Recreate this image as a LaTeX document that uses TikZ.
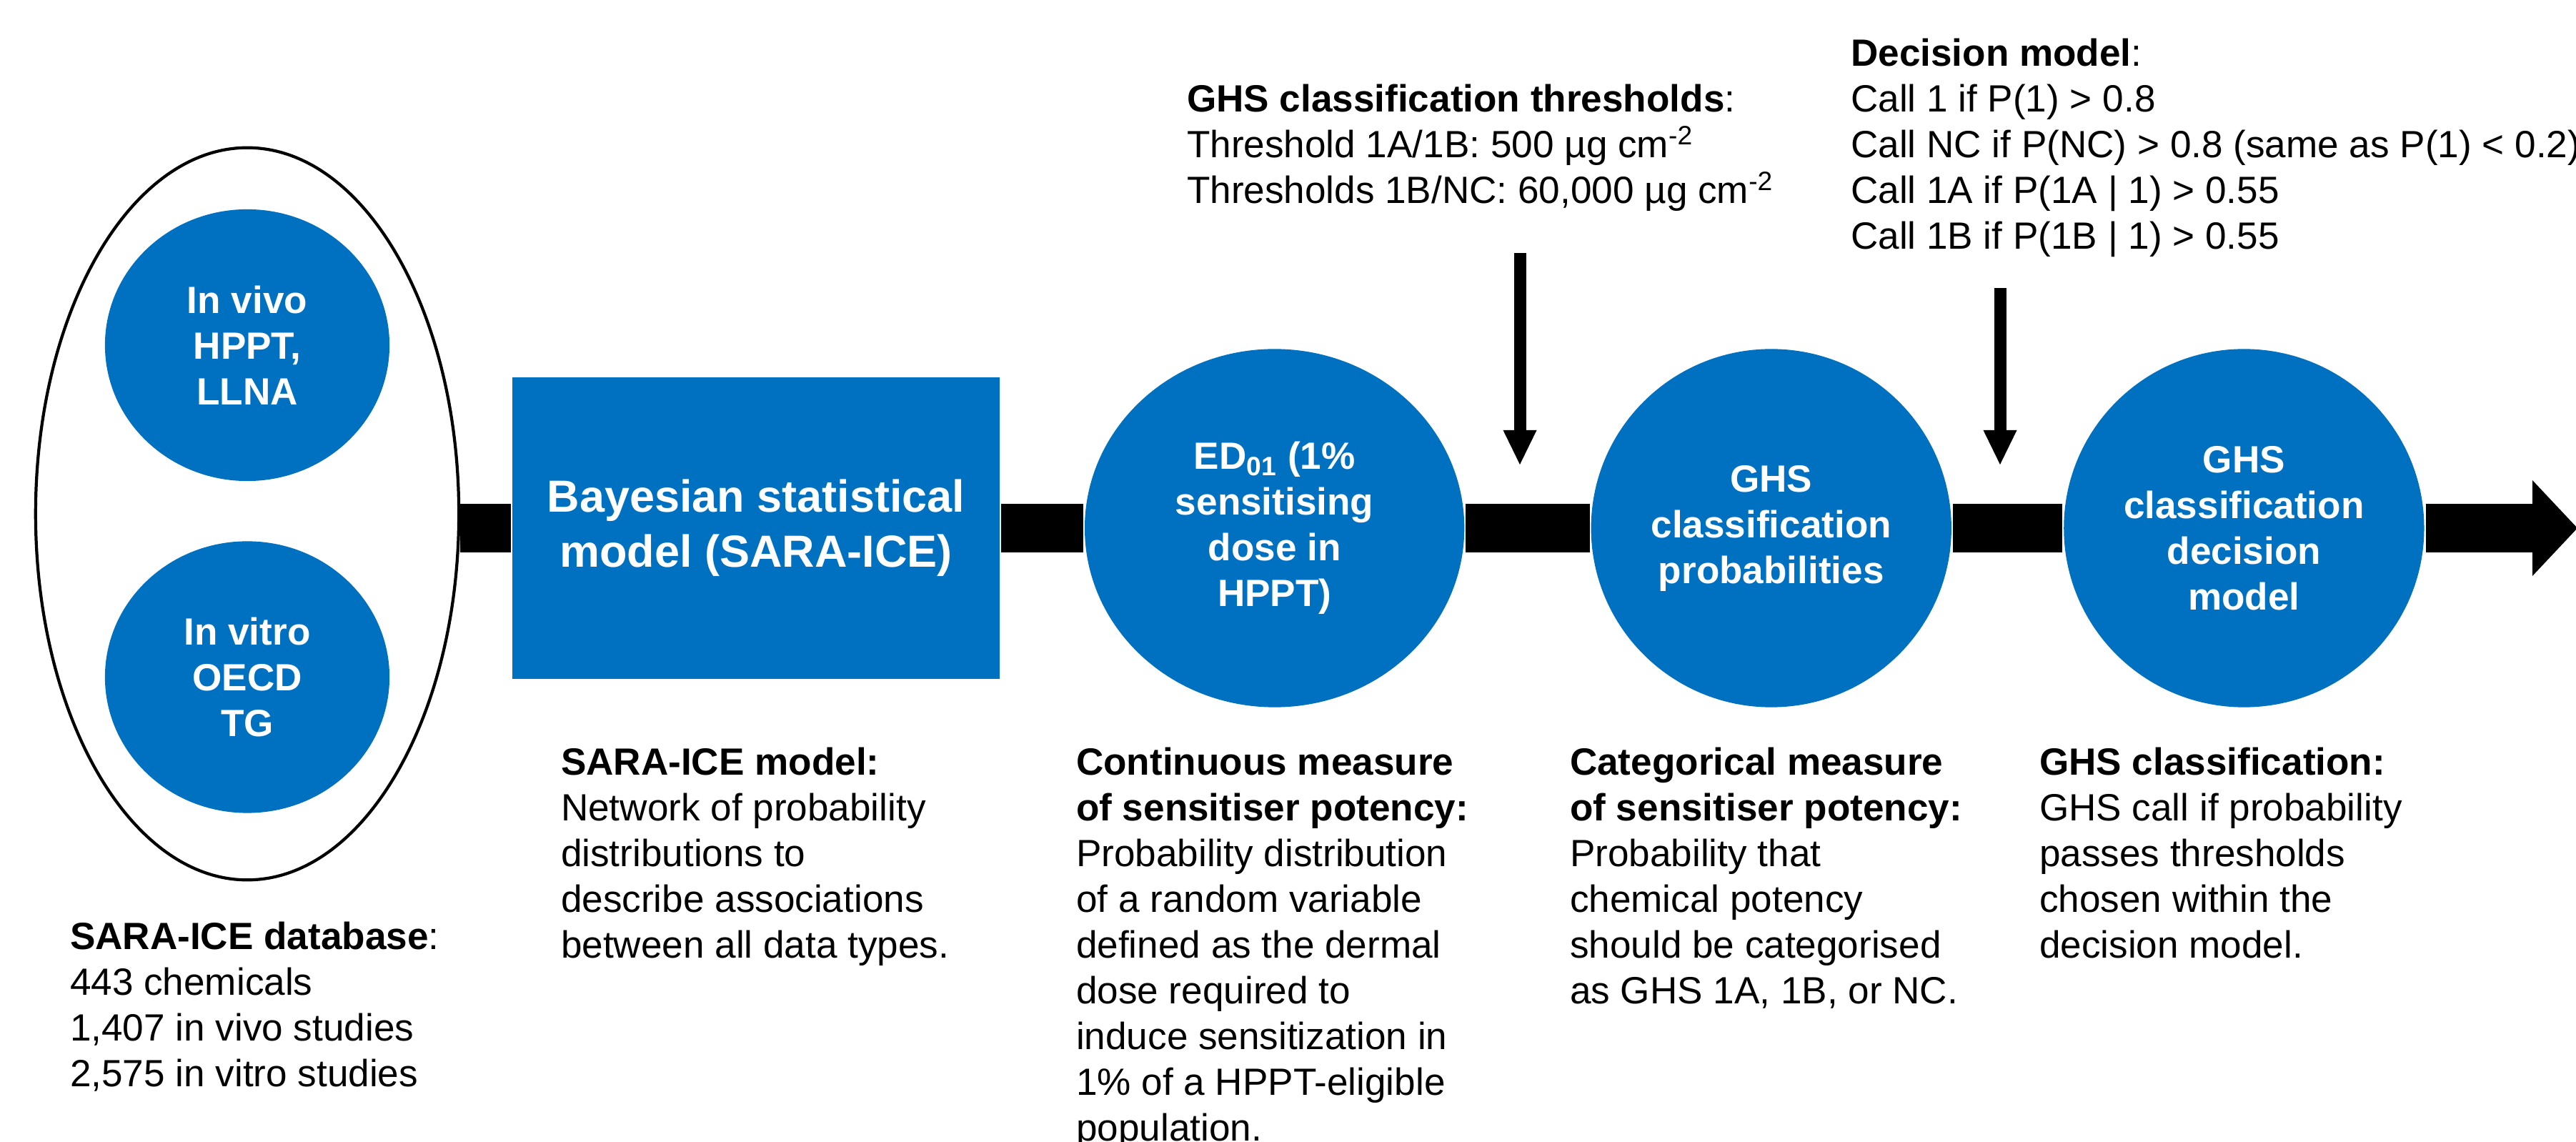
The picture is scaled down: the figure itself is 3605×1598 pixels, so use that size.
\documentclass[tikz,border=0pt]{standalone}
\usepackage{fontspec}
\setmainfont{Liberation Sans}
\usetikzlibrary{shapes.geometric, arrows.meta, positioning, backgrounds}

\definecolor{sarablue}{RGB}{0,112,192}
\newcommand{\flowfont}{\fontsize{15.1}{18.2}\selectfont}
\newcommand{\boxfont}{\fontsize{17.9}{21.9}\selectfont}

\begin{document}
\begin{tikzpicture}[
                x = 0.01cm, y = -0.01cm, % one unit per pixel, y downwards
                > = {Triangle[width = 0.47cm, length = 0.48cm, line width = 0pt]}, % arrow head style
                node distance = 8mm, % distance between nodes
                line width = 1.2pt % line style
            ]

            \tikzstyle{every node}=[inner sep = 0pt, font = \flowfont]
            \tikzstyle{stage}=[ellipse, fill = sarablue, text = white,
            align = center, font = \flowfont\bfseries]
            \tikzstyle{note}=[anchor = north west, align = left]
            \tikzstyle{bar}=[line width = 0.67cm]
            \tikzstyle{feed}=[line width = 0.17cm, ->]

            \useasboundingbox (0,0) rectangle (3605,1598);

            % data sources
            \node (data) [ellipse, draw, minimum width = 5.92cm,
            minimum height = 10.24cm] at (346,719) {}; \node (vivo) [stage,
            minimum width = 3.98cm, minimum height = 3.8cm] at (346,483)
            {In vivo\\HPPT,\\LLNA}; \node (vitro) [stage, minimum width = 3.98cm,
            minimum height = 3.8cm, below = of vivo] {In vitro\\OECD\\TG};

            % model chain
            \node (sara) [rectangle, fill = sarablue, text = white, align = center,
            font = \boxfont\bfseries, minimum width = 6.81cm, minimum height = 4.22cm]
            at (1058,739) {Bayesian statistical\\model (SARA-ICE)};
            \node (ed) [stage, minimum width = 5.31cm, minimum height = 5.01cm,
            right = 1.15cm of sara] {ED\textsubscript{01} (1\%\\sensitising\\dose in\\HPPT)};
            \node (prob) [stage, minimum width = 5.04cm, minimum height = 5.01cm,
            right = 1.73cm of ed] {GHS\\classification\\probabilities};
            \node (dec) [stage, minimum width = 5.04cm, minimum height = 5.01cm,
            right = 1.53cm of prob] {GHS\\classification\\decision\\model};
            \coordinate (tip) at (3607,739);

            % inputs from above
            \node (thr) [note] at (1659,116) {\textbf{GHS classification thresholds}:\\
            Threshold 1A/1B: 500 µg cm\textsuperscript{-2}\\
            Thresholds 1B/NC: 60,000 µg cm\textsuperscript{-2}};
            \node (rule) [note] at (2588,52) {\textbf{Decision model}:\\
            Call 1 if P(1) > 0.8\\
            Call NC if P(NC) > 0.8 (same as P(1) < 0.2)\\
            Call 1A if P(1A | 1) > 0.55\\
            Call 1B if P(1B | 1) > 0.55};
            \coordinate (thrtop) at (2127,354); \coordinate (thrend) at (2127,650);
            \coordinate (ruletop) at (2799,403); \coordinate (ruleend) at (2799,650);

            % notes below
            \node (datanote) [note] at (96,1288) {\textbf{SARA-ICE database}:\\
            443 chemicals\\1,407 in vivo studies\\2,575 in vitro studies};
            \node (saranote) [note] at (783,1044) {\textbf{SARA-ICE model:}\\
            Network of probability\\distributions to\\describe associations\\
            between all data types.};
            \node (ednote) [note] at (1504,1044) {\textbf{Continuous measure}\\
            \textbf{of sensitiser potency:}\\Probability distribution\\
            of a random variable\\defined as the dermal\\dose required to\\
            induce sensitization in\\1\% of a HPPT-eligible\\population.};
            \node (probnote) [note] at (2195,1044) {\textbf{Categorical measure}\\
            \textbf{of sensitiser potency:}\\Probability that\\chemical potency\\
            should be categorised\\as GHS 1A, 1B, or NC.};
            \node (decnote) [note] at (2852,1044) {\textbf{GHS classification:}\\
            GHS call if probability\\passes thresholds\\chosen within the\\
            decision model.};

            \path[feed] (thrtop) edge (thrend); \path[feed] (ruletop) edge (ruleend);

            \begin{pgfonlayer}{background}
            \path[bar] (data.east |- sara.west) edge (sara.west); \path[bar] (sara)
            edge (ed); \path[bar] (ed) edge (prob); \path[bar] (prob) edge (dec);
            \draw[bar, -{Triangle[width = 1.34cm, length = 0.63cm, line width = 0pt]}]
            (dec) -- (tip);
            \end{pgfonlayer}

        \end{tikzpicture}
\end{document}
